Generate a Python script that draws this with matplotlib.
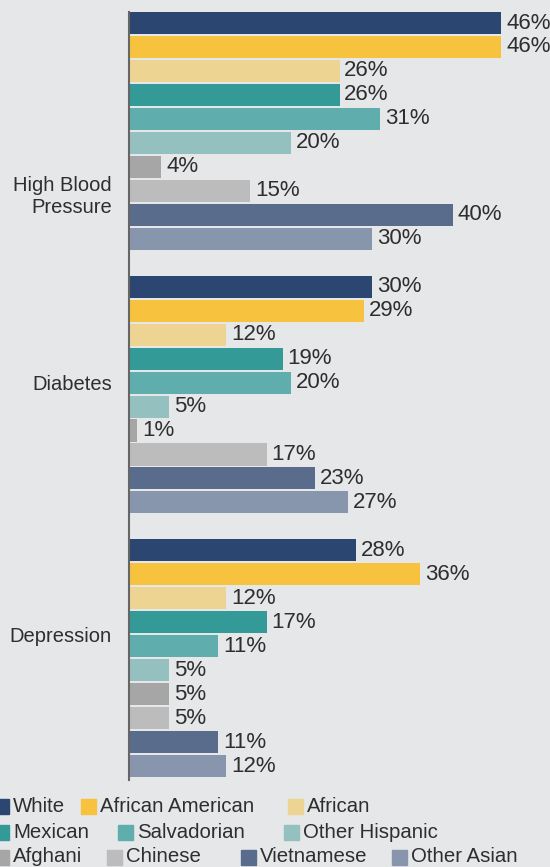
import matplotlib.pyplot as plt
from matplotlib.patches import Rectangle
import numpy as np

# data
conditions = ['High Blood\nPressure', 'Diabetes', 'Depression']
groups = ['White', 'African American', 'African', 'Mexican', 'Salvadorian',
          'Other Hispanic', 'Afghani', 'Chinese', 'Vietnamese', 'Other Asian']
high_bp = [46, 46, 26, 26, 31, 20, 4, 15, 40, 30]
diabetes = [30, 29, 12, 19, 20, 5, 1, 17, 23, 27]
depression = [28, 36, 12, 17, 11, 5, 5, 5, 11, 12]
colors = ['#2b4670', '#f7c33f', '#eed492', '#339a98', '#5fadad',
          '#94c0c0', '#a6a6a6', '#bcbcbc', '#5a6c8c', '#8896ad']

values = [high_bp, diabetes, depression]
bg = '#e6e7e9'
W, H = 550, 867

plt.rcParams['font.family'] = ['Liberation Sans', 'DejaVu Sans']

fig = plt.figure(figsize=(W / 100, H / 100), dpi=100, facecolor=bg)
ax = fig.add_axes([129 / W, (H - 780) / H, (W - 129) / W, 768 / H])
ax.set_facecolor(bg)

step = 11
for g, vals in enumerate(values):
    for j, v in enumerate(vals):
        y = g * step + j
        ax.barh(y, v, height=0.92, color=colors[j], zorder=2)
        ax.annotate(f'{v}%', (v, y), xytext=(3.5, 0), textcoords='offset points',
                    va='center', ha='left', fontsize=16, color='#2e2e2e')

ax.set_xlim(0, 52)
ax.set_ylim(31.58, -0.46)
for s in ['top', 'right', 'bottom']:
    ax.spines[s].set_visible(False)
ax.spines['left'].set_color('#666666')
ax.spines['left'].set_linewidth(1.5)
ax.spines['left'].set_zorder(3)
ax.set_xticks([])
label_offsets = [7.1, 4.0, 3.5]
ax.set_yticks([g * step + o for g, o in enumerate(label_offsets)])
ax.set_yticklabels(conditions, fontsize=14.5, color='#2e2e2e', ha='right')
ax.tick_params(axis='y', length=0, pad=12.5)

# legend, laid out in three rows as in the original
rows = [[0, 1, 2], [3, 4, 5], [6, 7, 8, 9]]
row_y = [806, 832, 857]
marker_x = [[-6, 81, 288], [-6, 118, 284], [-6, 107, 241, 392]]
for r, idxs in enumerate(rows):
    for k, i in enumerate(idxs):
        x0 = marker_x[r][k]
        yc = row_y[r]
        fig.patches.append(Rectangle((x0 / W, (H - yc - 7.5) / H), 15 / W, 15 / H,
                                     transform=fig.transFigure, color=colors[i]))
        fig.text((x0 + 19) / W, (H - yc) / H, groups[i], fontsize=14.7,
                 color='#2e2e2e', va='center', ha='left')

fig.savefig('out.png', dpi=100, facecolor=bg)
